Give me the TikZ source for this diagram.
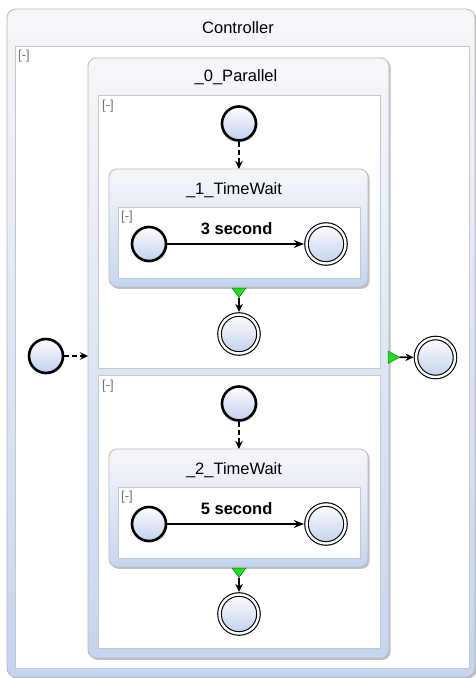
\documentclass[tikz,border=0pt]{standalone}
\usepackage{fontspec}
\setmainfont{Liberation Sans}
\usetikzlibrary{shadows,arrows.meta}
\definecolor{bandblue}{RGB}{198,213,240}
\definecolor{boxtop}{RGB}{246,247,250}
\definecolor{circblue}{RGB}{192,208,236}
\definecolor{edgegray}{RGB}{185,185,185}
\definecolor{regiongray}{RGB}{198,198,198}
\definecolor{tipgreen}{RGB}{34,222,34}
\definecolor{tipdark}{RGB}{20,120,20}

\begin{document}
\begin{tikzpicture}[x=1pt,y=-1pt,
  every node/.style={font=\fontsize{16.5}{19}\selectfont},
  boxshadow/.style={drop shadow={shadow xshift=1.6pt,shadow yshift=-1.8pt,opacity=0.35,fill=black!70}},
  container/.style={draw=edgegray, line width=0.8pt, rounded corners=9pt,
    top color=boxtop, bottom color=bandblue, inner sep=0pt, outer sep=0pt,
    anchor=north west, boxshadow},
  region/.style={draw=regiongray, line width=0.8pt, fill=white,
    inner sep=0pt, outer sep=0pt, anchor=north west},
  collapse/.style={text=black!55, font=\fontsize{13}{15}\selectfont, anchor=west, inner sep=0pt},
  title/.style={inner sep=0pt},
  initial/.style={circle, draw=black, line width=2.6pt, top color=white,
    bottom color=circblue, minimum size=34pt, inner sep=0pt,
    drop shadow={shadow xshift=1.5pt,shadow yshift=-1.5pt,opacity=0.3}},
  final/.style={circle, draw=black, line width=1.1pt, double=white,
    double distance=2.4pt, top color=white, bottom color=circblue,
    minimum size=39pt, inner sep=0pt,
    drop shadow={shadow xshift=1.5pt,shadow yshift=-1.5pt,opacity=0.3}},
  dasharrow/.style={draw=black, line width=1.5pt, dash pattern=on 5pt off 3pt,
    -{Stealth[length=8pt,width=7.5pt]}},
  solidarrow/.style={draw=black, line width=1.6pt, -{Stealth[length=10pt,width=8pt]}, shorten >=2pt},
  tiparrow/.style={draw=black, line width=1.6pt, -{Stealth[length=8pt,width=7.5pt]}, shorten >=2pt},
  greentri/.style={fill=tipgreen, draw=tipdark, line width=0.5pt, line join=round},
  timelabel/.style={inner sep=0pt, font=\fontsize{16.5}{19}\selectfont\bfseries}
]
\useasboundingbox (0,0) rectangle (476,678);

% Controller
\node[container, minimum width=468pt, minimum height=668pt] (ctl) at (7,9) {};
\node[title] (ctltitle) at (238,28) {Controller};
\node[region, minimum width=454pt, minimum height=622pt] (ctlreg) at (15,46) {};
\node[collapse] (ctlcol) at (18,56.5) {[-]};

% _0_Parallel
\node[container, rounded corners=8pt, minimum width=301pt, minimum height=600pt] (par) at (88,58) {};
\node[title] (partitle) at (236,77) {\_0\_Parallel};
\node[region, minimum width=282pt, minimum height=273pt] (upreg) at (98,95) {};
\node[collapse] (upcol) at (102,106) {[-]};
\node[region, minimum width=282pt, minimum height=273pt] (loreg) at (98,375) {};
\node[collapse] (locol) at (102,386) {[-]};

% upper branch
\node[initial] (ui) at (239,123.5) {};
\node[container, rounded corners=8pt, minimum width=259pt, minimum height=118pt] (tw1) at (109,169) {};
\node[title] (tw1title) at (234,190) {\_1\_TimeWait};
\node[region, minimum width=242pt, minimum height=71pt] (tw1reg) at (118,207) {};
\node[collapse] (tw1col) at (121,217) {[-]};
\node[initial] (tw1i) at (149,244) {};
\node[final] (tw1f) at (326,244) {};
\node[final] (uf) at (239,334) {};

% lower branch
\node[initial] (li) at (239,403.5) {};
\node[container, rounded corners=8pt, minimum width=259pt, minimum height=118pt] (tw2) at (109,449) {};
\node[title] (tw2title) at (234,470) {\_2\_TimeWait};
\node[region, minimum width=242pt, minimum height=71pt] (tw2reg) at (118,487) {};
\node[collapse] (tw2col) at (121,497) {[-]};
\node[initial] (tw2i) at (149,524) {};
\node[final] (tw2f) at (326,524) {};
\node[final] (lf) at (239,614) {};

% controller start and end
\node[initial] (ci) at (46,356) {};
\node[final] (cf) at (435.5,357.5) {};

% transitions
\draw[dasharrow] (ci) -- (ci -| par.west);
\draw[dasharrow] (ui) -- (ui |- tw1.north);
\draw[dasharrow] (li) -- (li |- tw2.north);
\draw[solidarrow] (tw1i) -- node[timelabel, above=9pt] (tw1lbl) {3 second} (tw1f);
\draw[solidarrow] (tw2i) -- node[timelabel, above=9pt] (tw2lbl) {5 second} (tw2f);

% completion markers
\draw[greentri] (232,288) -- (246,288) -- (239,297.5) -- cycle;
\coordinate (g1) at (239,297.5);
\draw[tiparrow] (g1) -- (uf);
\draw[greentri] (232,568) -- (246,568) -- (239,577.5) -- cycle;
\coordinate (g2) at (239,577.5);
\draw[tiparrow] (g2) -- (lf);
\draw[greentri] (388,351) -- (388,363.5) -- (399.5,357.25) -- cycle;
\coordinate (g0) at (399.5,357.25);
\draw[tiparrow] (g0) -- (cf);
\end{tikzpicture}
\end{document}
